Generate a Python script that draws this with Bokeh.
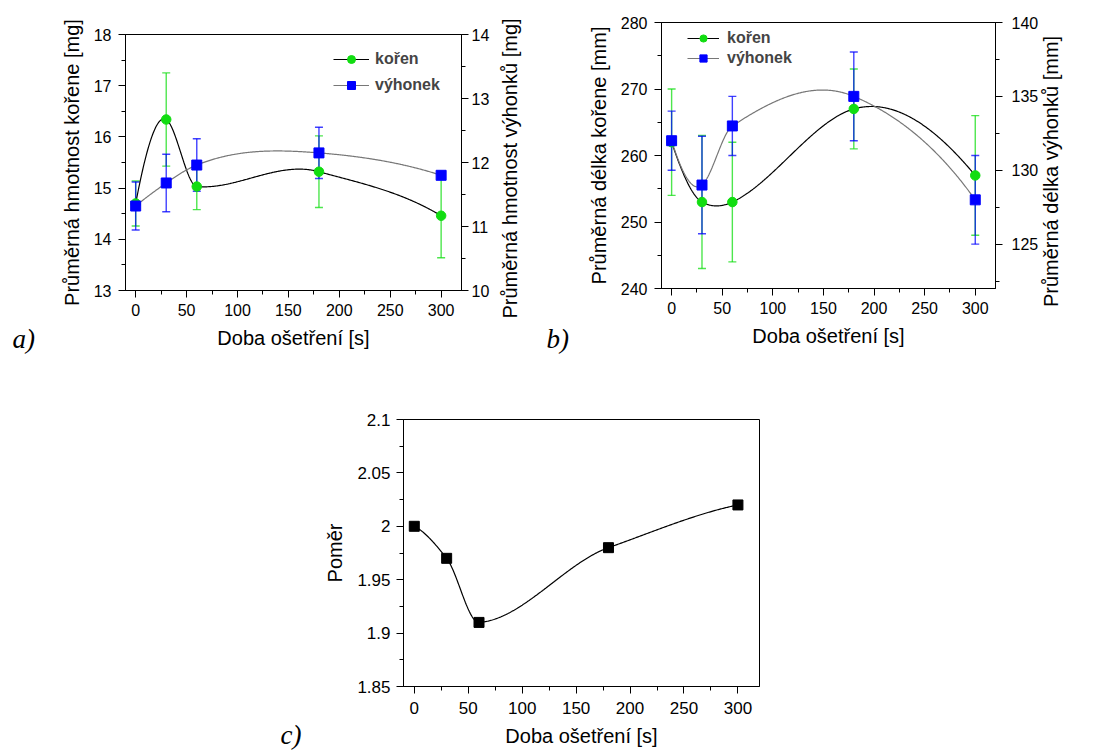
import math
import numpy as np
from bokeh.plotting import figure
from bokeh.models import (Range1d, LinearAxis, SingleIntervalTicker, Whisker, TeeHead,
                          ColumnDataSource, Legend, LegendItem, Label, CustomJSTickFormatter, Spacer)
from bokeh.layouts import column, row
from bokeh.embed import file_html
from bokeh.resources import INLINE

# ---------------- data ----------------
time_s = [0, 30, 60, 180, 300]
# a) average mass
mass_root = [14.70, 16.34, 15.03, 15.32, 14.46]          # left axis [mg]
mass_root_err = [0.44, 0.91, 0.45, 0.70, 0.82]
mass_shoot = [11.32, 11.68, 11.96, 12.15, 11.80]          # right axis [mg]
mass_shoot_err = [0.375, 0.45, 0.41, 0.40, 0.05]
# b) average length
len_root = [262, 253, 253, 267, 257]                      # left axis [mm]
len_root_err = [8, 10, 9, 6, 9]
len_shoot = [132, 129, 133, 135, 128]                     # right axis [mm]
len_shoot_err = [2, 3.3, 2, 3, 3]
# c) ratio
ratio = [2.00, 1.97, 1.91, 1.98, 2.02]

legend_labels = ["kořen", "výhonek"]

FONT = "Liberation Sans"
GREEN = "#11dd11"
BLUE = "#0000ff"
XR = (-10, 320)


def akima(xs, ys, n=400):
    """Akima spline through the points (drawing of the connecting curve)"""
    x = np.asarray(xs, float)
    y = np.asarray(ys, float)
    m = np.diff(y) / np.diff(x)
    mm = np.concatenate([[0, 0], m, [0, 0]])
    mm[1] = 2 * mm[2] - mm[3]
    mm[0] = 2 * mm[1] - mm[2]
    mm[-2] = 2 * mm[-3] - mm[-4]
    mm[-1] = 2 * mm[-2] - mm[-3]
    t = np.empty(len(x))
    for i in range(len(x)):
        m_a, m_b, m_c, m_d = mm[i], mm[i + 1], mm[i + 2], mm[i + 3]
        w1 = abs(m_d - m_c)
        w2 = abs(m_b - m_a)
        t[i] = (m_b + m_c) / 2 if w1 + w2 == 0 else (w1 * m_b + w2 * m_c) / (w1 + w2)
    xx = np.linspace(x[0], x[-1], n)
    idx = np.clip(np.searchsorted(x, xx, side="right") - 1, 0, len(x) - 2)
    h = x[idx + 1] - x[idx]
    s = (xx - x[idx]) / h
    h00 = 2 * s ** 3 - 3 * s ** 2 + 1
    h10 = s ** 3 - 2 * s ** 2 + s
    h01 = -2 * s ** 3 + 3 * s ** 2
    h11 = s ** 3 - s ** 2
    yy = h00 * y[idx] + h10 * h * t[idx] + h01 * y[idx + 1] + h11 * h * t[idx + 1]
    return xx, yy


def style_axis(ax, tick_size="16px", standoff=7):
    ax.axis_line_color = "black"
    ax.major_tick_line_color = "black"
    ax.minor_tick_line_color = "black"
    ax.major_tick_out = 7
    ax.major_tick_in = 0
    ax.minor_tick_out = 4
    ax.minor_tick_in = 0
    ax.major_label_text_font = FONT
    ax.major_label_text_font_size = tick_size
    ax.major_label_text_color = "black"
    ax.major_label_standoff = standoff
    ax.axis_label_text_font = FONT
    ax.axis_label_text_font_size = "20px"
    ax.axis_label_text_font_style = "normal"
    ax.axis_label_text_color = "black"
    ax.axis_label_standoff = 8


def base_fig(w, h, left, right, top, bottom, yr):
    p = figure(width=w, height=h, output_backend="svg", toolbar_location=None,
               x_range=Range1d(*XR), y_range=Range1d(*yr),
               min_border_left=left, min_border_right=right,
               min_border_top=top, min_border_bottom=bottom)
    if "frame_align" in p.properties():
        p.frame_align = False
    p.xgrid.visible = False
    p.ygrid.visible = False
    p.outline_line_color = "black"
    p.outline_line_width = 1
    p.background_fill_color = "white"
    p.border_fill_color = "white"
    return p


def add_err(p, xs, ys, errs, color, range_name="default"):
    src = ColumnDataSource(dict(x=xs, upper=[v + e for v, e in zip(ys, errs)],
                                lower=[v - e for v, e in zip(ys, errs)]))
    w = Whisker(base="x", upper="upper", lower="lower", source=src,
                line_color=color, line_width=1.4, line_alpha=0.75, level="underlay",
                upper_head=TeeHead(size=8, line_color=color, line_alpha=0.75, line_width=1.4),
                lower_head=TeeHead(size=8, line_color=color, line_alpha=0.75, line_width=1.4))
    if range_name != "default":
        w.y_range_name = range_name
    p.add_layout(w)


def panel_label(p, text, x, y):
    # placed in the left side panel (outside the frame, so not clipped)
    p.add_layout(Label(x=x, y=y, x_units="screen", y_units="screen", text=text,
                       text_font="Liberation Serif", text_font_style="italic",
                       text_font_size="27px", text_color="black", text_baseline="alphabetic",
                       text_align="left"), "left")


def dual_panel(w, h, left, right, top, bottom, yl, yr_, yl_int, yr_int,
               root, root_err, shoot, shoot_err, ylabel_l, ylabel_r, legend_loc, leg_cfg,
               rstandoff, rlab_xy):
    p = base_fig(w, h, left, right, top, bottom, yl)
    p.extra_y_ranges = {"right": Range1d(*yr_)}
    p.xaxis.ticker = SingleIntervalTicker(interval=50, num_minor_ticks=2)
    p.yaxis.ticker = SingleIntervalTicker(interval=yl_int, num_minor_ticks=2)
    p.xaxis.axis_label = "Doba ošetření [s]"
    p.yaxis.axis_label = ylabel_l
    style_axis(p.xaxis[0], standoff=6)
    style_axis(p.yaxis[0])
    rax = LinearAxis(y_range_name="right",
                     ticker=SingleIntervalTicker(interval=yr_int, num_minor_ticks=2))
    style_axis(rax, standoff=rstandoff)
    p.add_layout(rax, "right")
    # right-axis title, reading bottom-to-top like the left one (side panel => not clipped)
    p.add_layout(Label(x=rlab_xy[0], y=rlab_xy[1], x_units="screen", y_units="screen",
                       text=ylabel_r, angle=math.pi / 2, text_align="center",
                       text_baseline="middle", text_font=FONT, text_font_size="20px",
                       text_color="black"), "right")

    add_err(p, time_s, root, root_err, GREEN)
    add_err(p, time_s, shoot, shoot_err, BLUE, "right")
    cx, cy = akima(time_s, root)
    l1 = p.line(cx, cy, line_color="black", line_width=1.2)
    dx, dy = akima(time_s, shoot)
    l2 = p.line(dx, dy, line_color="#777777", line_width=1.2, y_range_name="right")
    s1 = p.scatter(time_s, root, marker="circle", size=9.5, fill_color=GREEN, line_color=GREEN)
    s2 = p.scatter(time_s, shoot, marker="square", size=10, fill_color=BLUE, line_color=BLUE,
                   y_range_name="right")
    leg = Legend(items=[LegendItem(label=legend_labels[0], renderers=[l1, s1]),
                        LegendItem(label=legend_labels[1], renderers=[l2, s2])],
                 location=legend_loc, background_fill_alpha=0, border_line_alpha=0,
                 padding=0, margin=0, label_text_font=FONT, label_text_font_style="bold",
                 label_text_font_size="16px", **leg_cfg)
    p.add_layout(leg)
    return p


# ---------------- panel a ----------------
pa = dual_panel(540, 370, 125, 79, 34, 80, (13, 18), (10, 14), 1, 1,
                mass_root, mass_root_err, mass_shoot, mass_shoot_err,
                "Průměrná hmotnost kořene [mg]", "Průměrná hmotnost výhonků [mg]",
                (208, 195), dict(glyph_width=36, glyph_height=20, label_height=20, spacing=6,
                                 label_standoff=6), 3, (17, 122))
panel_label(pa, "a)", -23, -48)

# ---------------- panel b ----------------
pb = dual_panel(556, 370, 121, 101, 22, 82, (240, 280), (122, 140), 10, 5,
                len_root, len_root_err, len_shoot, len_shoot_err,
                "Průměrná délka kořene [mm]", "Průměrná délka výhonků [mm]",
                (26, 221), dict(glyph_width=32, glyph_height=18, label_height=18, spacing=2,
                                label_standoff=8), 9, (9, 117))
panel_label(pb, "b)", -16, -50)

# ---------------- panel c ----------------
pc = base_fig(540, 382, 143, 41, 49, 66, (1.85, 2.1))
pc.xaxis.ticker = SingleIntervalTicker(interval=50, num_minor_ticks=2)
pc.yaxis.ticker = SingleIntervalTicker(interval=0.05, num_minor_ticks=2)
pc.yaxis.formatter = CustomJSTickFormatter(code="return String(+tick.toFixed(3));")
pc.xaxis.axis_label = "Doba ošetření [s]"
pc.yaxis.axis_label = "Poměr"
style_axis(pc.xaxis[0], tick_size="17px", standoff=8)
style_axis(pc.yaxis[0], tick_size="17px", standoff=6)
rx, ry = akima(time_s, ratio)
pc.line(rx, ry, line_color="black", line_width=1.2)
pc.scatter(time_s, ratio, marker="square", size=10, fill_color="black", line_color="black")
panel_label(pc, "c)", -20, -48)

layout = column(row(pa, pb), row(Spacer(width=260, height=382), pc))

with open("out.html", "w") as f:
    f.write(file_html(layout, INLINE))
